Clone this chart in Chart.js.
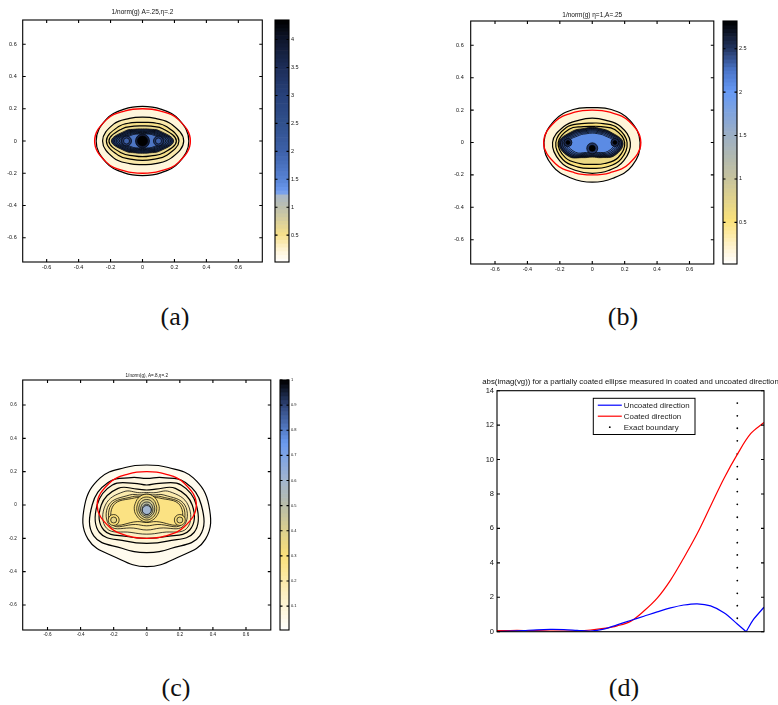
<!DOCTYPE html>
<html>
<head>
<meta charset="utf-8">
<script src="https://cdn.jsdelivr.net/npm/chart.js@4.4.1/dist/chart.umd.min.js"></script>
<style>
  body { margin: 0; background: #fff; width: 778px; height: 705px; position: relative; overflow: hidden; }
  canvas { position: absolute; }
  .cap { position: absolute; width: 60px; text-align: center; font-family: "Liberation Serif", "DejaVu Serif", serif; font-size: 26px; line-height: 30px; color: #111; }
</style>
</head>
<body>
<canvas id="plotA" width="270" height="275" style="left:0;top:0"></canvas>
<canvas id="barA" width="40" height="275" style="left:270px;top:0"></canvas>
<canvas id="plotB" width="280" height="277" style="left:440px;top:0"></canvas>
<canvas id="barB" width="60" height="277" style="left:718px;top:0"></canvas>
<canvas id="plotC" width="277" height="282" style="left:0;top:360px"></canvas>
<canvas id="barC" width="40" height="282" style="left:275px;top:360px"></canvas>
<canvas id="plotD" width="338" height="270" style="left:440px;top:370px"></canvas>
<div class="cap" style="left:145px;top:302px">(a)</div>
<div class="cap" style="left:593px;top:302px">(b)</div>
<div class="cap" style="left:146px;top:673px">(c)</div>
<div class="cap" style="left:594px;top:673px">(d)</div>
<script>
// contour rings: radius (data units) read at 0°,30°,...,330° around the origin
const ANG = [0, 30, 60, 90, 120, 150, 180, 210, 240, 270, 300, 330];
const boundaryR = [0.3, 0.262, 0.216, 0.2, 0.216, 0.262, 0.3, 0.262, 0.216, 0.2, 0.216, 0.262];

// (a) 1/norm(g) A=.25, eta=.2
const ringsA = [
  [0.29, 0.264, 0.228, 0.215, 0.228, 0.264, 0.29, 0.264, 0.228, 0.214, 0.228, 0.264],
  [0.258, 0.209, 0.162, 0.148, 0.162, 0.209, 0.25, 0.209, 0.162, 0.146, 0.162, 0.209],
  [0.228, 0.176, 0.131, 0.115, 0.131, 0.176, 0.226, 0.176, 0.131, 0.12, 0.131, 0.176],
  [0.212, 0.15, 0.106, 0.094, 0.106, 0.15, 0.21, 0.15, 0.106, 0.097, 0.106, 0.15],
  [0.195, 0.125, 0.085, 0.075, 0.085, 0.125, 0.195, 0.125, 0.085, 0.076, 0.085, 0.125],
  [0.185, 0.116, 0.078, 0.069, 0.078, 0.116, 0.185, 0.116, 0.078, 0.069, 0.078, 0.116],
  [0.175, 0.107, 0.071, 0.063, 0.071, 0.107, 0.175, 0.107, 0.071, 0.063, 0.071, 0.107],
  [0.165, 0.099, 0.065, 0.058, 0.065, 0.099, 0.165, 0.099, 0.065, 0.058, 0.065, 0.099],
  [0.155, 0.091, 0.06, 0.053, 0.06, 0.091, 0.155, 0.091, 0.06, 0.053, 0.06, 0.091],
  [0.145, 0.083, 0.055, 0.048, 0.055, 0.083, 0.145, 0.083, 0.055, 0.048, 0.055, 0.083],
  [0.135, 0.075, 0.05, 0.044, 0.05, 0.075, 0.135, 0.075, 0.05, 0.044, 0.05, 0.075]
];
const levelsA = [0.2, 0.38, 0.5, 0.6, 3.4, 3.1, 2.8, 2.5, 2.2, 1.9, 1.7];
const sideAX = [-0.1, 0.1], sideAY = [0, 0];
const coreAX = [0], coreAY = [0];
const rangeA = [0.02, 4.35];

// (b) 1/norm(g) eta=1, A=.25
const ringsB = [
  [0.295, 0.27, 0.235, 0.215, 0.235, 0.27, 0.298, 0.285, 0.255, 0.245, 0.255, 0.285],
  [0.235, 0.2, 0.16, 0.15, 0.16, 0.2, 0.245, 0.23, 0.2, 0.19, 0.2, 0.225],
  [0.215, 0.18, 0.135, 0.12, 0.135, 0.185, 0.225, 0.21, 0.175, 0.16, 0.175, 0.205],
  [0.2, 0.16, 0.113, 0.1, 0.113, 0.165, 0.21, 0.19, 0.15, 0.135, 0.15, 0.185],
  [0.19, 0.13, 0.1, 0.094, 0.1, 0.14, 0.205, 0.17, 0.108, 0.09, 0.108, 0.16],
  [0.18, 0.122, 0.092, 0.087, 0.092, 0.13, 0.195, 0.16, 0.1, 0.083, 0.1, 0.15],
  [0.17, 0.113, 0.084, 0.079, 0.084, 0.12, 0.184, 0.15, 0.092, 0.077, 0.092, 0.14],
  [0.16, 0.104, 0.077, 0.072, 0.077, 0.11, 0.174, 0.14, 0.085, 0.071, 0.085, 0.13],
  [0.15, 0.095, 0.07, 0.065, 0.07, 0.1, 0.164, 0.13, 0.078, 0.065, 0.078, 0.12],
  [0.14, 0.086, 0.063, 0.058, 0.063, 0.09, 0.154, 0.12, 0.071, 0.06, 0.071, 0.11]
];
const levelsB = [0.17, 0.35, 0.5, 0.65, 2.6, 2.5, 2.4, 2.3, 2.2, 2.1];
const sideBX = [-0.15, 0.14], sideBY = [0, 0];
const coreBX = [0], coreBY = [-0.036];
const rangeB = [0.02, 2.82];

// (c) 1/norm(g), A=.8, eta=.2
const ringsC = [
  [0.375, 0.325, 0.26, 0.24, 0.26, 0.325, 0.375, 0.41, 0.365, 0.37, 0.365, 0.41],
  [0.33, 0.27, 0.19, 0.16, 0.19, 0.27, 0.33, 0.37, 0.3, 0.286, 0.3, 0.37],
  [0.3, 0.24, 0.15, 0.12, 0.15, 0.24, 0.3, 0.33, 0.25, 0.23, 0.25, 0.33],
  [0.275, 0.2, 0.11, 0.09, 0.11, 0.2, 0.275, 0.3, 0.22, 0.2, 0.22, 0.3],
  [0.25, 0.16, 0.085, 0.075, 0.085, 0.16, 0.25, 0.28, 0.19, 0.175, 0.19, 0.28],
  [0.23, 0.12, 0.07, 0.065, 0.07, 0.12, 0.23, 0.255, 0.16, 0.15, 0.16, 0.255],
  [0.215, 0.1, 0.06, 0.055, 0.06, 0.1, 0.215, 0.24, 0.135, 0.125, 0.135, 0.24],
  [0.2, 0.085, 0.05, 0.046, 0.05, 0.085, 0.2, 0.228, 0.115, 0.105, 0.115, 0.228]
];
const levelsC = [0.04, 0.07, 0.1, 0.14, 0.19, 0.23, 0.26, 0.28];
// rings around the central peak, radii measured from coreC
const coreRingsC = [
  [0.075, 0.08, 0.09, 0.095, 0.09, 0.08, 0.075, 0.07, 0.07, 0.072, 0.07, 0.07],
  [0.06, 0.065, 0.075, 0.078, 0.075, 0.065, 0.06, 0.058, 0.058, 0.06, 0.058, 0.058],
  [0.048, 0.052, 0.06, 0.063, 0.06, 0.052, 0.048, 0.046, 0.046, 0.048, 0.046, 0.046],
  [0.037, 0.04, 0.046, 0.048, 0.046, 0.04, 0.037, 0.036, 0.036, 0.037, 0.036, 0.036],
  [0.027, 0.029, 0.033, 0.035, 0.033, 0.029, 0.027, 0.026, 0.026, 0.027, 0.026, 0.026]
];
const coreLevelsC = [0.31, 0.36, 0.42, 0.48, 0.54];
const sideCX = [-0.2, 0.2], sideCY = [-0.09, -0.09];
const coreCX = [0], coreCY = [-0.03];
const rangeC = [0.005, 1];

// (d) abs(imag(vg)) along the two directions (x = fraction of the sampled radius)
const uncoatedX = [0, 0.05, 0.1, 0.15, 0.2, 0.25, 0.3, 0.35, 0.4, 0.45, 0.5, 0.55, 0.6, 0.65, 0.7, 0.75, 0.8, 0.85, 0.9, 0.933, 0.96, 1.0];
const uncoatedY = [0, 0.03, 0.07, 0.11, 0.13, 0.12, 0.08, 0.04, 0.15, 0.4, 0.65, 0.9, 1.15, 1.38, 1.55, 1.62, 1.5, 1.1, 0.45, 0, 0.7, 1.42];
const coatedX = [0, 0.05, 0.1, 0.15, 0.2, 0.25, 0.3, 0.35, 0.4, 0.45, 0.5, 0.55, 0.6, 0.65, 0.7, 0.75, 0.8, 0.85, 0.9, 0.95, 1.0];
const coatedY = [0.06, 0.07, 0.07, 0.06, 0.04, 0.03, 0.05, 0.1, 0.19, 0.34, 0.6, 1.2, 1.95, 3.0, 4.3, 5.7, 7.3, 8.9, 10.3, 11.5, 12.15];
const boundaryDotX = 0.9;
const boundaryDotsY = [13.28, 12.54, 11.82, 11.09, 10.33, 9.59, 8.86, 8.14, 7.4, 6.65, 5.91, 5.17, 4.46, 3.72, 2.97, 2.23, 1.51, 0.78];

const FONT = '"Liberation Sans", Arial, Helvetica, sans-serif';

// colour maps (style)
const stopsA = [[0, '#ffffff'], [0.05, '#fff5d8'], [0.115, '#f6e08a'], [0.23, '#bbbfae'], [0.285, '#a8b8cc'], [0.29, '#6e9cf2'],
  [0.345, '#5783d4'], [0.46, '#3d60a8'], [0.575, '#30508c'], [0.69, '#27417a'], [0.805, '#1d2d58'], [0.92, '#0e162c'], [1, '#000000']];
const stopsB = [[0, '#ffffff'], [0.06, '#fff5d8'], [0.18, '#fbe27a'], [0.36, '#c5c29e'], [0.54, '#9aaec6'], [0.71, '#6699f5'],
  [0.8, '#4a74c8'], [0.89, '#22345f'], [1, '#000000']];
const stopsC = [[0, '#ffffff'], [0.05, '#fffaea'], [0.15, '#fdefc0'], [0.3, '#fbe07a'], [0.4, '#dcd08e'], [0.5, '#b8bca8'],
  [0.6, '#a2b5cf'], [0.75, '#6a9af0'], [0.9, '#2e4478'], [1, '#000000']];

function hexRgb(h) {
  return [parseInt(h.slice(1, 3), 16), parseInt(h.slice(3, 5), 16), parseInt(h.slice(5, 7), 16)];
}
function cmap(stops, t) {
  t = Math.max(0, Math.min(1, t));
  for (let i = 1; i < stops.length; i++) {
    if (t <= stops[i][0]) {
      const t0 = stops[i - 1][0], t1 = stops[i][0];
      const f = t1 > t0 ? (t - t0) / (t1 - t0) : 0;
      const a = hexRgb(stops[i - 1][1]), b = hexRgb(stops[i][1]);
      return 'rgb(' + a.map((v, k) => Math.round(v + (b[k] - v) * f)).join(',') + ')';
    }
  }
  return stops[stops.length - 1][1];
}

function ringPoints(radii, cx, cy) {
  return radii.map((r, i) => ({
    x: cx + r * Math.cos(ANG[i] * Math.PI / 180),
    y: cy + r * Math.sin(ANG[i] * Math.PI / 180)
  }));
}
function ringSet(radii, cx, cy, fillColor, width) {
  return {
    data: ringPoints(radii, cx, cy), showLine: true, closed: true, tension: 0.42,
    fill: fillColor ? 'shape' : false, backgroundColor: fillColor || 'rgba(0,0,0,0)',
    borderColor: '#000', borderWidth: width, pointRadius: 0
  };
}
function spotSet(xs, ys, radius, color) {
  return {
    data: xs.map((x, i) => ({ x: x, y: ys[i] })), showLine: false, pointRadius: radius,
    pointBackgroundColor: color, pointBorderColor: '#000', pointBorderWidth: 0.7
  };
}
// builds bottom-to-top, then reverses (Chart.js paints dataset 0 last)
function panelSets(p) {
  const col = v => cmap(p.stops, v / p.vmax);
  const sets = [];
  p.rings.forEach((r, i) => sets.push(ringSet(r, 0, 0, col(p.levels[i]), i < 4 ? 1.2 : 0.75)));
  (p.coreRings || []).forEach((r, i) => sets.push(ringSet(r, p.coreX[0], p.coreY[0], col(p.coreLevels[i]), 0.7)));
  p.spots.forEach(s => sets.push(spotSet(s.x, s.y, s.r, col(s.v))));
  const red = ringSet(boundaryR, 0, 0, null, 1.3);
  red.borderColor = '#ff0000';
  sets.push(red);
  return sets.reverse();
}

// ---------- plugins ----------
const loopPlugin = {
  id: 'closedRings',
  afterDatasetsUpdate(chart) {
    chart.data.datasets.forEach((ds, i) => {
      if (!ds.closed) return;
      const line = chart.getDatasetMeta(i).dataset;
      if (!line) return;
      line._loop = true;
      line._fullLoop = true;
      line._segments = undefined;
      line._path = undefined;
      line._pointsUpdated = false;
    });
  }
};

const boxPlugin = {
  id: 'mbox',
  afterDatasetsDraw(chart, args, o) {
    const { ctx, chartArea: a } = chart;
    const len = o.tick || 3;
    ctx.save();
    ctx.strokeStyle = '#000';
    ctx.lineWidth = o.lineWidth || 1;
    ctx.beginPath();
    if (o.xTicks !== false) {
      const xs = chart.scales.x;
      xs.ticks.forEach(t => {
        const px = xs.getPixelForValue(t.value);
        ctx.moveTo(px, a.bottom); ctx.lineTo(px, a.bottom - len);
        ctx.moveTo(px, a.top); ctx.lineTo(px, a.top + len);
      });
    }
    const ys = chart.scales.y;
    ys.ticks.forEach(t => {
      const py = ys.getPixelForValue(t.value);
      ctx.moveTo(a.left, py); ctx.lineTo(a.left + len, py);
      ctx.moveTo(a.right, py); ctx.lineTo(a.right - len, py);
    });
    ctx.stroke();
    ctx.strokeRect(a.left, a.top, a.right - a.left, a.bottom - a.top);
    ctx.restore();
  }
};

const titlePlugin = {
  id: 'ptitle',
  afterDraw(chart, args, o) {
    if (!o.text) return;
    const { ctx, chartArea: a } = chart;
    ctx.save();
    ctx.font = o.font;
    ctx.fillStyle = '#111';
    ctx.textAlign = 'center';
    ctx.textBaseline = 'middle';
    ctx.fillText(o.text, (a.left + a.right) / 2, a.top - o.offset);
    ctx.restore();
  }
};

const colorbarPlugin = {
  id: 'colorbar',
  beforeDatasetsDraw(chart, args, o) {
    if (!o.stops) return;
    const { ctx, chartArea: a } = chart;
    const ys = chart.scales.y;
    const n = 64;
    ctx.save();
    for (let i = 0; i < n; i++) {
      const v0 = ys.min + (ys.max - ys.min) * i / n;
      const v1 = ys.min + (ys.max - ys.min) * (i + 1) / n;
      const p0 = ys.getPixelForValue(v0), p1 = ys.getPixelForValue(v1);
      ctx.fillStyle = cmap(o.stops, (i + 0.5) / n);
      ctx.fillRect(a.left, p1, a.right - a.left, p0 - p1 + 0.6);
    }
    ctx.restore();
  }
};

const legendBox = {
  id: 'legendBox',
  afterDatasetsDraw(chart, args, o) {
    if (!o.width) return;
    const { ctx, chartArea: a } = chart;
    const x0 = a.right - o.right - o.width, y0 = a.top + o.top;
    ctx.save();
    ctx.fillStyle = '#fff';
    ctx.fillRect(x0, y0, o.width, o.height);
    ctx.strokeStyle = '#000';
    ctx.lineWidth = 1;
    ctx.strokeRect(x0, y0, o.width, o.height);
    ctx.font = o.font;
    ctx.textBaseline = 'middle';
    let row = 0;
    chart.data.datasets.forEach(ds => {
      if (!ds.label) return;
      const y = y0 + o.row0 + row * o.rowH;
      if (ds.showLine === false) {
        ctx.fillStyle = '#000';
        ctx.beginPath();
        ctx.arc(x0 + 16.5, y, 0.9, 0, Math.PI * 2);
        ctx.fill();
      } else {
        ctx.strokeStyle = ds.borderColor;
        ctx.lineWidth = 1.2;
        ctx.beginPath();
        ctx.moveTo(x0 + 4.5, y); ctx.lineTo(x0 + 28.5, y);
        ctx.stroke();
      }
      ctx.fillStyle = '#222';
      ctx.fillText(ds.label, x0 + 30.5, y + 0.5);
      row++;
    });
    ctx.restore();
  }
};

function fmtTick(v) {
  return Math.abs(v) < 1e-9 ? '0' : String(+v.toFixed(2));
}
function axisOpts(size, pad, fitter) {
  return {
    type: 'linear', min: -0.75, max: 0.75,
    ticks: { stepSize: 0.2, includeBounds: false, autoSkip: false, maxRotation: 0,
      font: { family: FONT, size: size }, color: '#111', padding: pad, callback: fmtTick },
    grid: { display: false, drawTicks: false }, border: { display: false },
    afterFit: fitter
  };
}

function contourChart(id, sets, o) {
  return new Chart(document.getElementById(id), {
    type: 'scatter',
    data: { datasets: sets },
    options: {
      responsive: false, animation: false, events: [], devicePixelRatio: 1,
      layout: { padding: o.pad },
      plugins: {
        legend: { display: false }, tooltip: { enabled: false },
        mbox: { tick: 3, lineWidth: 1.1 },
        ptitle: { text: o.title, font: o.titleSize + 'px ' + FONT, offset: o.titleOffset }
      },
      scales: {
        x: axisOpts(o.font, o.xPad, s => { s.height = o.xH; }),
        y: axisOpts(o.font, o.yPad, s => { s.width = o.yW; })
      }
    },
    plugins: [loopPlugin, boxPlugin, titlePlugin]
  });
}

function colorbarChart(id, range, step, stops, size, pad, yW) {
  return new Chart(document.getElementById(id), {
    type: 'scatter',
    data: { datasets: [] },
    options: {
      responsive: false, animation: false, events: [], devicePixelRatio: 1,
      layout: { padding: pad },
      plugins: { legend: { display: false }, tooltip: { enabled: false }, colorbar: { stops: stops }, mbox: { tick: 2.5, xTicks: false, lineWidth: 1.1 } },
      scales: {
        x: { display: false, min: 0, max: 1 },
        y: {
          position: 'right', min: range[0], max: range[1],
          ticks: { stepSize: step, includeBounds: false, autoSkip: false, font: { family: FONT, size: size }, color: '#111', padding: 2, callback: fmtTick },
          grid: { display: false, drawTicks: false }, border: { display: false },
          afterFit: s => { s.width = yW; }
        }
      }
    },
    plugins: [colorbarPlugin, boxPlugin]
  });
}

// ---------- panel (a) ----------
contourChart('plotA', panelSets({
  rings: ringsA, levels: levelsA, stops: stopsA, vmax: rangeA[1],
  spots: [
    { x: sideAX, y: sideAY, r: 5, v: 3.2 }, { x: sideAX, y: sideAY, r: 3, v: 2.0 },
    { x: coreAX, y: coreAY, r: 7, v: 3.8 }, { x: coreAX, y: coreAY, r: 5, v: 4.35 }
  ]
}), { pad: { top: 20, left: 0, right: 5, bottom: 0 }, yW: 22.7, xH: 13, font: 5.5, xPad: 2, yPad: 6,
  title: '1/norm(g) A=.25,\u03b7=.2', titleSize: 6.5, titleOffset: 7.3 });
colorbarChart('barA', rangeA, 0.5, stopsA, 5.5, { left: 5, top: 20, bottom: 13, right: 0 }, 21);

// ---------- panel (b) ----------
contourChart('plotB', panelSets({
  rings: ringsB, levels: levelsB, stops: stopsB, vmax: rangeB[1],
  spots: [
    { x: sideBX, y: sideBY, r: 4, v: 2.55 }, { x: sideBX, y: sideBY, r: 2, v: 2.82 },
    { x: coreBX, y: coreBY, r: 5.5, v: 2.5 }, { x: coreBX, y: coreBY, r: 3, v: 2.82 }
  ]
}), { pad: { top: 21, left: 0, right: 6, bottom: 0 }, yW: 30.7, xH: 13, font: 5.5, xPad: 2, yPad: 7,
  title: '1/norm(g) \u03b7=1,A=.25', titleSize: 6.5, titleOffset: 6 });
colorbarChart('barB', rangeB, 0.5, stopsB, 5.5, { left: 5, top: 21, bottom: 13, right: 0 }, 41);

// ---------- panel (c) ----------
contourChart('plotC', panelSets({
  rings: ringsC, levels: levelsC, stops: stopsC, vmax: rangeC[1],
  coreRings: coreRingsC, coreLevels: coreLevelsC, coreX: coreCX, coreY: coreCY,
  spots: [
    { x: sideCX, y: sideCY, r: 5.5, v: 0.3 }, { x: sideCX, y: sideCY, r: 3, v: 0.36 },
    { x: coreCX, y: coreCY, r: 4.5, v: 0.6 }
  ]
}), { pad: { top: 20, left: 0, right: 4.3, bottom: 0 }, yW: 22.7, xH: 12, font: 4.6, xPad: 2, yPad: 6,
  title: '1/norm(g), A=.8,\u03b7=.2', titleSize: 4.6, titleOffset: 4.3 });
colorbarChart('barC', rangeC, 0.1, stopsC, 4, { left: 5, top: 20, bottom: 12, right: 0 }, 26);

// ---------- panel (d) ----------
const vIdx = uncoatedY.indexOf(0, 1);
const toXY = (xs, ys) => xs.map((x, i) => ({ x: x, y: ys[i] }));
const uncoatedPts = toXY(uncoatedX, uncoatedY);
new Chart(document.getElementById('plotD'), {
  type: 'scatter',
  data: {
    datasets: [
      { label: 'Uncoated direction', data: uncoatedPts.slice(0, vIdx + 1), showLine: true, borderColor: '#0000ff', borderWidth: 1.2, pointRadius: 0, tension: 0.35 },
      { label: 'Coated direction', data: toXY(coatedX, coatedY), showLine: true, borderColor: '#ff0000', borderWidth: 1.2, pointRadius: 0, tension: 0.35 },
      { label: 'Exact boundary', data: boundaryDotsY.map(y => ({ x: boundaryDotX, y: y })), showLine: false, pointRadius: 0.9, pointBackgroundColor: '#000', pointBorderWidth: 0 },
      { data: uncoatedPts.slice(vIdx), showLine: true, borderColor: '#0000ff', borderWidth: 1.2, pointRadius: 0, tension: 0.2 }
    ]
  },
  options: {
    responsive: false, animation: false, events: [], devicePixelRatio: 1,
    layout: { padding: { top: 20.7, left: 0, right: 14, bottom: 8.3 } },
    plugins: {
      legend: { display: false }, tooltip: { enabled: false },
      mbox: { tick: 3, xTicks: false, lineWidth: 1.1 },
      ptitle: { text: 'abs(imag(vg)) for a partially coated ellipse measured in coated and uncoated direction', font: '7.8px ' + FONT, offset: 8.4 },
      legendBox: { right: 69, top: 7.6, width: 101.7, height: 36.2, row0: 6.9, rowH: 11, font: '7.9px ' + FONT }
    },
    scales: {
      x: { type: 'linear', display: false, min: 0, max: 1 },
      y: {
        min: 0, max: 14,
        ticks: { stepSize: 2, autoSkip: false, font: { family: FONT, size: 7.5 }, color: '#111', padding: 3 },
        grid: { display: false, drawTicks: false }, border: { display: false },
        afterFit: s => { s.width = 57; }
      }
    }
  },
  plugins: [boxPlugin, titlePlugin, legendBox]
});
</script>
</body>
</html>
